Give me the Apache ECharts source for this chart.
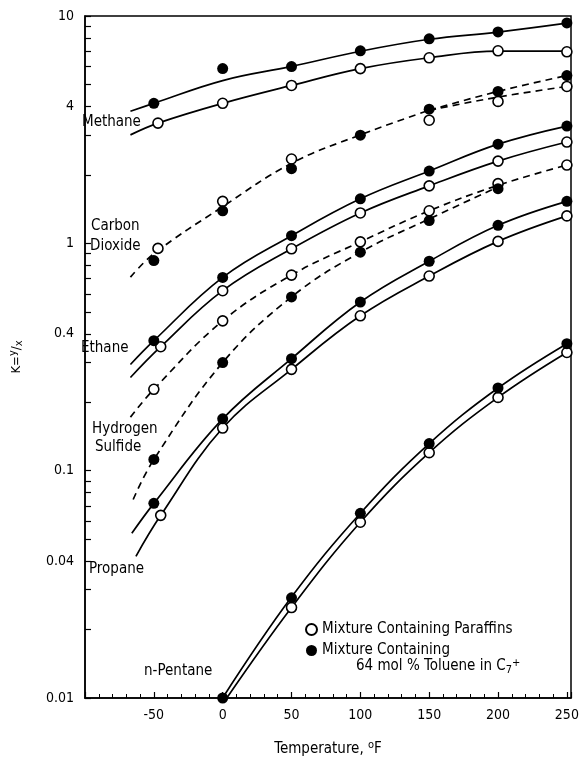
<!DOCTYPE html>
<html>
<head>
<meta charset="utf-8">
<script src="https://cdn.jsdelivr.net/npm/echarts@6/dist/echarts.min.js"></script>
<style>
  html, body { margin: 0; padding: 0; background: #fff; }
  #chart { width: 582px; height: 762px; }
</style>
</head>
<body>
<div id="chart"></div>
<script>
// K = y/x versus temperature (°F)
const methaneOpen = [[-47, 3.38], [0, 4.13], [50, 4.95], [100, 5.87], [150, 6.55], [200, 7.03], [250, 6.96]];
const methaneToluene = [[-50, 4.13], [0, 5.87], [50, 5.99], [100, 7.03], [150, 7.94], [200, 8.51], [250, 9.32]];
const co2Open = [[-47, 0.95], [0, 1.53], [50, 2.35], [150, 3.48], [200, 4.21], [250, 4.90]];
const co2Toluene = [[-50, 0.84], [0, 1.39], [50, 2.13], [100, 2.99], [150, 3.89], [200, 4.66], [250, 5.47]];
const ethaneOpen = [[-45, 0.351], [0, 0.619], [50, 0.946], [100, 1.36], [150, 1.79], [200, 2.30], [250, 2.79]];
const ethaneToluene = [[-50, 0.373], [0, 0.708], [50, 1.08], [100, 1.57], [150, 2.08], [200, 2.73], [250, 3.28]];
const h2sOpen = [[-50, 0.228], [0, 0.456], [50, 0.725], [100, 1.015], [150, 1.39], [200, 1.83], [250, 2.21]];
const h2sToluene = [[-50, 0.112], [0, 0.299], [50, 0.581], [100, 0.914], [150, 1.26], [200, 1.74]];
const propaneOpen = [[-45, 0.0636], [0, 0.154], [50, 0.279], [100, 0.48], [150, 0.718], [200, 1.02], [250, 1.32]];
const propaneToluene = [[-50, 0.0718], [0, 0.169], [50, 0.311], [100, 0.552], [150, 0.834], [200, 1.20], [250, 1.53]];
const pentaneOpen = [[50, 0.025], [100, 0.0593], [150, 0.120], [200, 0.210], [250, 0.331]];
const pentaneToluene = [[0, 0.01], [50, 0.0276], [100, 0.0649], [150, 0.1316], [200, 0.231], [250, 0.362]];

// hand-drawn fitted curves
const methaneTolueneCurve = [[-67, 3.81], [-50, 4.13], [0, 5.2], [50, 6.0], [100, 7.0], [150, 7.9], [200, 8.5], [250, 9.3]];
const methaneOpenCurve = [[-67, 3.0], [-47, 3.38], [0, 4.13], [50, 4.95], [100, 5.87], [150, 6.55], [200, 7.0], [250, 7.0]];
const co2Curve = [[-67, 0.71], [-50, 0.9], [0, 1.45], [50, 2.25], [100, 3.0], [150, 3.85]];
const co2UpperCurve = [[150, 3.85], [200, 4.66], [250, 5.47]];
const co2LowerCurve = [[150, 3.85], [200, 4.4], [250, 4.9]];
const ethaneTolueneCurve = [[-67, 0.293], [-50, 0.373], [0, 0.708], [50, 1.08], [100, 1.57], [150, 2.08], [200, 2.73], [250, 3.28]];
const ethaneOpenCurve = [[-67, 0.257], [-45, 0.351], [0, 0.619], [50, 0.946], [100, 1.36], [150, 1.79], [200, 2.30], [250, 2.79]];
const h2sOpenCurve = [[-67, 0.172], [-50, 0.228], [0, 0.456], [50, 0.725], [100, 1.015], [150, 1.39], [200, 1.80], [250, 2.21]];
const h2sTolueneCurve = [[-65, 0.0747], [-50, 0.112], [0, 0.299], [50, 0.581], [100, 0.914], [150, 1.28], [200, 1.77]];
const propaneTolueneCurve = [[-66, 0.053], [-50, 0.0718], [0, 0.169], [50, 0.311], [100, 0.552], [150, 0.834], [200, 1.20], [250, 1.53]];
const propaneOpenCurve = [[-63, 0.042], [-45, 0.0636], [0, 0.154], [50, 0.279], [100, 0.48], [150, 0.718], [200, 1.02], [250, 1.32]];
const pentaneTolueneCurve = [[-1, 0.0098], [50, 0.0278], [100, 0.065], [150, 0.1316], [200, 0.231], [250, 0.362]];
const pentaneOpenCurve = [[2, 0.0098], [50, 0.025], [100, 0.0593], [150, 0.12], [200, 0.21], [250, 0.331]];

const yTickValues = [0.01, 0.02, 0.03, 0.04, 0.05, 0.06, 0.07, 0.08, 0.09,
  0.1, 0.2, 0.3, 0.4, 0.5, 0.6, 0.7, 0.8, 0.9,
  1, 2, 3, 4, 5, 6, 7, 8, 9, 10];
const yLabelValues = [0.01, 0.04, 0.1, 0.4, 1, 4, 10];

const FONT = '"DejaVu Sans Condensed", "DejaVu Sans", sans-serif';

const chart = echarts.init(document.getElementById('chart'));

const curve = (data, dashed) => ({
  type: 'line',
  data: data,
  smooth: 0.4,
  showSymbol: false,
  silent: true,
  z: 2,
  lineStyle: { color: '#000', width: 1.7, type: dashed ? [7, 5] : 'solid' }
});

const openPoints = [].concat(methaneOpen, co2Open, ethaneOpen, h2sOpen, propaneOpen, pentaneOpen);
const toluenePoints = [].concat(methaneToluene, co2Toluene, ethaneToluene, h2sToluene, propaneToluene, pentaneToluene);

const label = (text, x, y) => ({
  type: 'text', left: x, top: y - 9,
  style: { text: text, font: '15px ' + FONT, fill: '#000' }
});

chart.setOption({
  animation: false,
  grid: { left: 80, right: 11, top: 16, bottom: 59, show: true, borderColor: '#000', borderWidth: 1.5 },
  xAxis: {
    type: 'value', min: -100, max: 253, interval: 50,
    name: 'Temperature, {sup|o}F',
    nameLocation: 'middle', nameGap: 42,
    nameTextStyle: {
      fontFamily: FONT, fontSize: 15, color: '#000',
      rich: { sup: { fontFamily: FONT, fontSize: 11, verticalAlign: 'top', padding: [0, 0, 8, 0] } }
    },
    axisLine: { onZero: false, lineStyle: { color: '#000', width: 1.5 } },
    axisTick: { inside: true, length: 6, lineStyle: { color: '#000', width: 1.2 } },
    minorTick: { show: true, splitNumber: 5, length: 4, lineStyle: { color: '#000', width: 1 } },
    axisLabel: {
      margin: 10, fontFamily: FONT, fontSize: 14, color: '#000', showMaxLabel: false,
      formatter: v => (v === -100 ? '' : String(v))
    },
    splitLine: { show: false }
  },
  yAxis: {
    type: 'log', logBase: 10, min: 0.01, max: 10,
    name: 'K={sup|y}/{sub|x}',
    nameLocation: 'middle', nameGap: 60, nameRotate: 90,
    nameTextStyle: {
      fontFamily: FONT, fontSize: 13, color: '#000',
      rich: {
        sup: { fontFamily: FONT, fontSize: 11, padding: [0, 0, 6, 0] },
        sub: { fontFamily: FONT, fontSize: 11, padding: [6, 0, 0, 0] }
      }
    },
    axisLine: { show: true, onZero: false, lineStyle: { color: '#000', width: 1.5 } },
    axisTick: { show: true, inside: true, length: 6, customValues: yTickValues, lineStyle: { color: '#000', width: 1.2 } },
    axisLabel: {
      margin: 11, fontFamily: FONT, fontSize: 14, color: '#000',
      customValues: yLabelValues,
      formatter: v => String(+v.toPrecision(3))
    },
    splitLine: { show: false }
  },
  legend: {
    orient: 'vertical', left: 300, top: 617, itemGap: 6,
    itemWidth: 11, itemHeight: 11,
    textStyle: { fontFamily: FONT, fontSize: 15, color: '#000' },
    data: ['Mixture Containing Paraffins', 'Mixture Containing']
  },
  graphic: [
    label('Methane', 82, 124),
    label('Carbon', 91, 228),
    label('Dioxide', 90, 248),
    label('Ethane', 81, 350),
    label('Hydrogen', 92, 431),
    label('Sulfide', 95, 449),
    label('Propane', 89, 571),
    label('n-Pentane', 144, 673),
    {
      type: 'text', left: 356, top: 658,
      style: {
        text: '64 mol % Toluene in C{sub|7}{sup|+}',
        font: '15px ' + FONT, fill: '#000',
        rich: {
          sub: { fontFamily: FONT, fontSize: 11, padding: [8, 0, 0, 0] },
          sup: { fontFamily: FONT, fontSize: 11, padding: [0, 0, 6, 0] }
        }
      }
    }
  ],
  series: [
    curve(methaneTolueneCurve, false),
    curve(methaneOpenCurve, false),
    curve(co2Curve, true),
    curve(co2UpperCurve, true),
    curve(co2LowerCurve, true),
    curve(ethaneTolueneCurve, false),
    curve(ethaneOpenCurve, false),
    curve(h2sOpenCurve, true),
    curve(h2sTolueneCurve, true),
    curve(propaneTolueneCurve, false),
    curve(propaneOpenCurve, false),
    curve(pentaneTolueneCurve, false),
    curve(pentaneOpenCurve, false),
    {
      name: 'Mixture Containing Paraffins', type: 'scatter', data: openPoints,
      symbol: 'circle', symbolSize: 10, z: 4,
      itemStyle: { color: '#fff', borderColor: '#000', borderWidth: 1.6, opacity: 1 }
    },
    {
      name: 'Mixture Containing', type: 'scatter', data: toluenePoints,
      symbol: 'circle', symbolSize: 11, z: 5,
      itemStyle: { color: '#000', borderColor: '#000', borderWidth: 0, opacity: 1 }
    }
  ]
});

window.addEventListener('resize', () => chart.resize());
</script>
</body>
</html>
